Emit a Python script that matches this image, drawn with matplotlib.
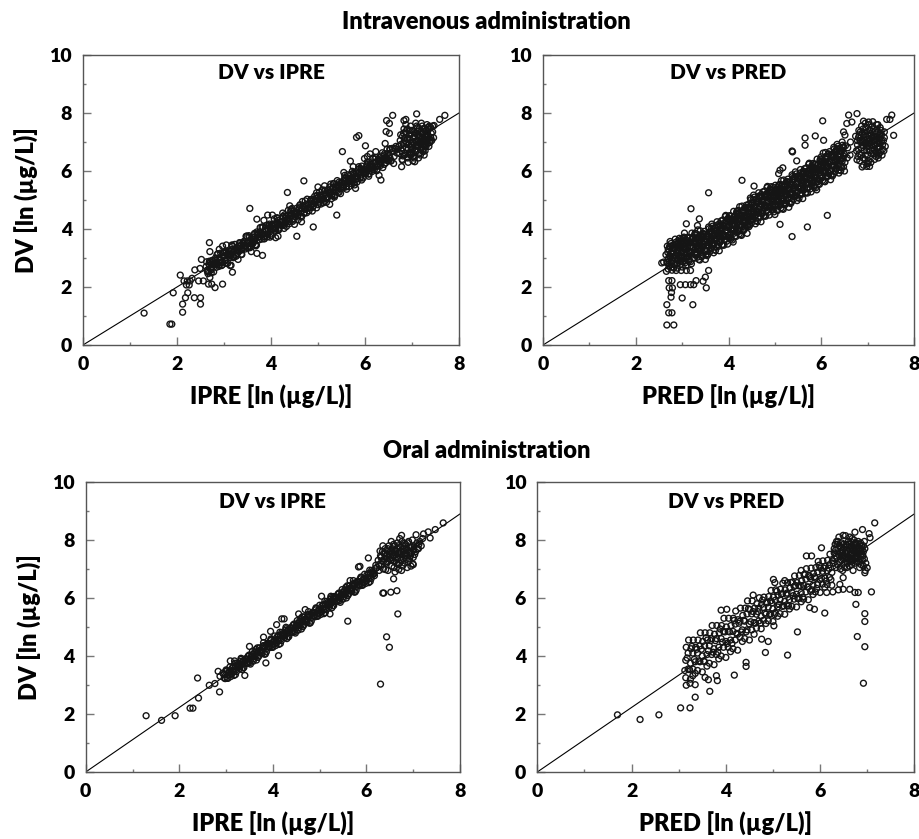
import numpy as np
import matplotlib
matplotlib.use("Agg")
import matplotlib.pyplot as plt

plt.rcParams['font.family'] = ['Lato', 'DejaVu Sans']
plt.rcParams['font.weight'] = 'heavy'

# ---- Intravenous: DV vs IPRE ----
iv_ipre_core = [
    (2.62,2.70),(2.64,2.58),(2.66,2.56),(2.68,2.80),(2.71,2.86),(2.73,2.59),(2.75,2.71),(2.77,2.80),(2.80,2.82),(2.82,3.00),
    (2.84,2.68),(2.86,2.77),(2.89,3.00),(2.91,2.92),(2.93,2.86),(2.95,2.74),(2.98,3.18),(3.00,3.07),(3.02,2.90),(3.04,3.18),
    (3.07,3.12),(3.09,3.06),(3.11,3.10),(3.13,3.02),(3.16,3.29),(3.18,3.40),(3.20,3.01),(3.22,3.26),(3.25,3.34),(3.27,3.10),
    (3.29,3.24),(3.31,3.41),(3.34,3.42),(3.36,3.30),(3.38,3.28),(3.40,3.52),(3.43,3.58),(3.45,3.31),(3.47,3.43),(3.49,3.52),
    (3.52,3.54),(3.54,3.72),(3.56,3.40),(3.58,3.49),(3.61,3.72),(3.63,3.64),(3.65,3.58),(3.67,3.46),(3.70,3.90),(3.72,3.79),
    (3.74,3.62),(3.76,3.90),(3.79,3.84),(3.81,3.78),(3.83,3.82),(3.85,3.74),(3.88,4.01),(3.90,4.12),(3.92,3.73),(3.94,3.98),
    (3.97,4.06),(3.99,3.82),(4.01,3.96),(4.03,4.13),(4.06,4.14),(4.08,4.02),(4.10,4.00),(4.12,4.24),(4.15,4.30),(4.17,4.03),
    (4.19,4.15),(4.21,4.24),(4.24,4.26),(4.26,4.44),(4.28,4.12),(4.30,4.21),(4.33,4.44),(4.35,4.36),(4.37,4.30),(4.39,4.18),
    (4.42,4.62),(4.44,4.51),(4.46,4.34),(4.48,4.62),(4.51,4.56),(4.53,4.50),(4.55,4.54),(4.57,4.46),(4.60,4.73),(4.62,4.84),
    (4.64,4.45),(4.66,4.70),(4.69,4.78),(4.71,4.54),(4.73,4.68),(4.75,4.85),(4.78,4.86),(4.80,4.74),(4.82,4.72),(4.84,4.96),
    (4.87,5.02),(4.89,4.75),(4.91,4.87),(4.93,4.96),(4.96,4.98),(4.98,5.16),(5.00,4.84),(5.02,4.93),(5.05,5.16),(5.07,5.08),
    (5.09,5.02),(5.11,4.90),(5.14,5.34),(5.16,5.23),(5.18,5.06),(5.20,5.34),(5.23,5.28),(5.25,5.22),(5.27,5.26),(5.29,5.18),
    (5.32,5.45),(5.34,5.56),(5.36,5.17),(5.38,5.42),(5.41,5.50),(5.43,5.26),(5.45,5.40),(5.47,5.57),(5.50,5.58),(5.52,5.46),
    (5.54,5.44),(5.56,5.68),(5.59,5.74),(5.61,5.47),(5.63,5.59),(5.65,5.68),(5.68,5.70),(5.70,5.88),(5.72,5.56),(5.74,5.65),
    (5.77,5.88),(5.79,5.80),(5.81,5.74),(5.83,5.62),(5.86,6.06),(5.88,5.95),(5.90,5.78),(5.92,6.06),(5.95,6.00),(5.97,5.94),
    (5.99,5.98),(6.01,5.90),(6.04,6.17),(6.06,6.28),(6.08,5.89),(6.10,6.14),(6.13,6.22),(6.15,5.98),(6.17,6.12),(6.19,6.29),
    (6.22,6.30),(6.24,6.18),(6.26,6.16),(6.28,6.40),(6.31,6.46),(6.33,6.19),(6.35,6.31),(6.37,6.40),(6.40,6.42),(6.42,6.60),
    (6.44,6.28),(6.46,6.37),(6.49,6.60),(6.51,6.52),(6.53,6.46),(6.55,6.34),(6.58,6.78),(6.60,6.67),(6.62,6.50),(6.64,6.78),
    (3.05,3.45),(3.30,2.95),(3.58,3.22),(3.70,3.16),(3.85,4.30),(4.15,3.75),(4.40,4.80),(4.65,4.25),(5.00,5.45),(5.25,4.85),
    (5.55,5.95),(5.80,5.40),(6.05,6.50),(6.30,5.85),(3.48,3.75),(4.10,3.70),(4.25,4.55),(5.35,5.10),(2.90,3.30),(3.15,2.75),
]
iv_ipre_fill = [
    (2.63,2.87),(2.66,2.46),(2.69,2.75),(2.72,2.63),(2.75,2.92),(2.78,2.52),(2.81,2.93),(2.84,2.82),(2.87,3.15),(2.90,2.75),
    (2.93,3.17),(2.96,2.76),(2.99,3.05),(3.02,2.93),(3.05,3.22),(3.08,2.82),(3.11,3.23),(3.14,3.12),(3.17,3.45),(3.20,3.05),
    (3.23,3.47),(3.26,3.06),(3.29,3.35),(3.32,3.23),(3.35,3.52),(3.38,3.12),(3.41,3.53),(3.44,3.42),(3.47,3.75),(3.50,3.35),
    (3.53,3.77),(3.56,3.36),(3.59,3.65),(3.62,3.53),(3.65,3.82),(3.68,3.42),(3.71,3.83),(3.74,3.72),(3.77,4.05),(3.80,3.65),
    (3.83,4.07),(3.86,3.66),(3.89,3.95),(3.92,3.83),(3.95,4.12),(3.98,3.72),(4.01,4.13),(4.04,4.02),(4.07,4.35),(4.10,3.95),
    (4.13,4.37),(4.16,3.96),(4.19,4.25),(4.22,4.13),(4.25,4.42),(4.28,4.02),(4.31,4.43),(4.34,4.32),(4.37,4.65),(4.40,4.25),
    (4.43,4.67),(4.46,4.26),(4.49,4.55),(4.52,4.43),(4.55,4.72),(4.58,4.32),(4.61,4.73),(4.64,4.62),(4.67,4.95),(4.70,4.55),
    (4.73,4.97),(4.76,4.56),(4.79,4.85),(4.82,4.73),(4.85,5.02),(4.88,4.62),(4.91,5.03),(4.94,4.92),(4.97,5.25),(5.00,4.85),
    (5.03,5.27),(5.06,4.86),(5.09,5.15),(5.12,5.03),(5.15,5.32),(5.18,4.92),(5.21,5.33),(5.24,5.22),(5.27,5.55),(5.30,5.15),
    (5.33,5.57),(5.36,5.16),(5.39,5.45),(5.42,5.33),(5.45,5.62),(5.48,5.22),(5.51,5.63),(5.54,5.52),(5.57,5.85),(5.60,5.45),
    (5.63,5.87),(5.66,5.46),(5.69,5.75),(5.72,5.63),(5.75,5.92),(5.78,5.52),(5.81,5.93),(5.84,5.82),(5.87,6.15),(5.90,5.75),
    (5.93,6.17),(5.96,5.76),(5.99,6.05),(6.02,5.93),(6.05,6.22),(6.08,5.82),(6.11,6.23),(6.14,6.12),(6.17,6.45),(6.20,6.05),
    (6.23,6.47),(6.26,6.06),(6.29,6.35),(6.32,6.23),(6.35,6.52),(6.38,6.12),(6.41,6.53),(6.44,6.42),(6.47,6.75),(6.50,6.35),
    (6.53,6.77),(6.56,6.36),
    (2.65,2.53),(2.69,2.89),(2.73,2.49),(2.77,2.87),(2.81,2.77),(2.85,3.11),(2.89,2.71),(2.93,2.95),(2.97,2.85),(3.01,3.21),
    (3.05,2.81),(3.09,3.19),(3.13,3.09),(3.17,3.43),(3.21,3.03),(3.25,3.27),(3.29,3.17),(3.33,3.53),(3.37,3.13),(3.41,3.51),
    (3.45,3.41),(3.49,3.75),(3.53,3.35),(3.57,3.59),(3.61,3.49),(3.65,3.85),(3.69,3.45),(3.73,3.83),(3.77,3.73),(3.81,4.07),
    (3.85,3.67),(3.89,3.91),(3.93,3.81),(3.97,4.17),(4.01,3.77),(4.05,4.15),(4.09,4.05),(4.13,4.39),(4.17,3.99),(4.21,4.23),
    (4.25,4.13),(4.29,4.49),(4.33,4.09),(4.37,4.47),(4.41,4.37),(4.45,4.71),(4.49,4.31),(4.53,4.55),(4.57,4.45),(4.61,4.81),
    (4.65,4.41),(4.69,4.79),(4.73,4.69),(4.77,5.03),(4.81,4.63),(4.85,4.87),(4.89,4.77),(4.93,5.13),(4.97,4.73),(5.01,5.11),
    (5.05,5.01),(5.09,5.35),(5.13,4.95),(5.17,5.19),(5.21,5.09),(5.25,5.45),(5.29,5.05),(5.33,5.43),(5.37,5.33),(5.41,5.67),
    (5.45,5.27),(5.49,5.51),(5.53,5.41),(5.57,5.77),(5.61,5.37),(5.65,5.75),(5.69,5.65),(5.73,5.99),(5.77,5.59),(5.81,5.83),
    (5.85,5.73),(5.89,6.09),(5.93,5.69),(5.97,6.07),(6.01,5.97),(6.05,6.31),(6.09,5.91),(6.13,6.15),(6.17,6.05),(6.21,6.41),
    (6.25,6.01),(6.29,6.39),(6.33,6.29),(6.37,6.63),(6.41,6.23),(6.45,6.47),(6.49,6.37),(6.53,6.73),
]
iv_ipre_blob = [
    (6.72,6.85),(6.75,7.05),(6.78,6.70),(6.80,7.20),(6.82,6.95),(6.84,6.55),(6.86,7.35),(6.88,6.80),(6.90,7.10),(6.91,6.45),
    (6.93,6.90),(6.95,7.25),(6.96,6.65),(6.98,7.00),(7.00,7.40),(7.01,6.75),(7.03,7.15),(7.04,6.50),(7.06,6.95),(7.07,7.30),
    (7.09,6.70),(7.10,7.05),(7.12,7.50),(7.13,6.85),(7.15,7.20),(7.16,6.60),(7.18,7.00),(7.19,7.35),(7.21,6.80),(7.22,7.10),
    (7.24,7.45),(7.25,6.90),(7.27,7.25),(7.28,6.70),(7.30,7.05),(7.31,7.40),(7.33,6.95),(7.35,7.20),(7.37,7.55),(7.39,7.05),
    (7.41,7.30),(6.74,6.60),(6.79,6.40),(6.83,7.45),(6.87,7.60),(6.92,6.30),(6.97,7.55),(7.02,6.35),(7.08,7.65),(7.14,6.45),
    (7.20,7.65),(7.26,6.55),(7.32,7.60),(7.36,6.85),(7.40,7.50),(7.44,7.35),(7.46,7.15),(6.89,6.98),(6.94,7.12),(6.99,6.82),
    (7.05,7.22),(7.11,6.92),(7.17,7.12),(7.23,7.02),(7.29,7.18),(6.85,7.15),(6.97,6.55),(7.03,6.62),(7.13,7.38),(7.19,6.72),
    (7.25,7.32),(6.81,6.52),(7.34,7.10),(7.38,6.98),(6.77,6.92),(6.70,6.75),(6.68,6.62),(6.66,6.85),
    (6.76,7.25),(6.80,6.80),(6.84,7.05),(6.88,7.30),(6.92,6.75),(6.96,7.40),(7.00,6.90),(7.04,7.35),(7.08,6.85),(7.12,7.25),
    (7.16,6.95),(7.20,7.30),(7.24,6.75),(7.28,7.45),(7.32,7.25),(7.36,7.45),(7.40,7.15),(6.86,6.62),(6.90,7.45),(6.94,6.58),
    (6.98,7.28),(7.02,7.00),(7.06,6.72),(7.10,7.55),(7.14,7.05),(7.18,6.55),(7.22,7.55),(7.26,7.05),(7.30,6.85),(7.34,7.50),
    (7.42,7.05),(7.44,7.55),(6.82,7.30),(7.00,6.60),(7.15,7.45),(7.21,6.95),(7.27,6.85),(7.33,7.35),(7.37,7.00),(7.05,6.45),
]
iv_ipre_out = [
    (1.30,1.10),(1.85,0.72),(1.89,0.72),(1.92,1.80),(2.12,1.13),(2.12,1.41),(2.07,2.41),(2.18,1.63),(2.23,1.80),(2.37,1.63),
    (2.50,1.63),(2.50,1.41),(2.38,2.59),(2.52,2.95),(2.46,2.21),(2.56,2.21),(2.15,2.21),(2.22,2.21),(2.28,2.21),(2.20,2.07),
    (2.26,2.07),(2.32,2.30),(2.69,3.53),(2.70,3.22),(2.67,2.10),(2.74,2.10),(2.81,1.98),(2.97,2.10),(2.70,2.33),(2.49,2.64),
    (2.97,3.41),(3.18,2.51),(3.13,2.74),(3.55,4.71),(3.70,4.34),(3.82,3.09),(3.93,4.48),(4.03,4.48),(4.35,5.26),(4.50,4.16),
    (4.55,3.75),(4.70,5.66),(4.90,4.07),(5.14,5.49),(5.40,4.48),(5.52,6.67),(5.69,6.34),(5.75,6.15),(5.82,7.16),(5.87,7.22),
    (6.01,6.87),(6.34,5.69),(5.99,6.43),(6.11,6.59),(6.23,6.67),(6.46,7.74),(6.52,7.64),(6.59,7.92),(6.45,7.36),(6.52,7.30),
    (6.43,6.95),(6.61,6.26),(6.78,6.15),(6.83,7.74),(6.87,7.78),(7.10,7.97),(6.80,6.37),(7.06,6.32),(7.24,6.67),(7.31,7.01),
    (7.47,7.57),(7.59,7.78),(7.70,7.92),(6.90,6.49),(6.95,6.61),
]

# ---- Intravenous: DV vs PRED ----
iv_pred_core = [
    (2.66,2.54),(2.67,2.84),(2.65,3.11),(2.68,3.41),(2.72,2.72),(2.73,3.04),(2.71,3.30),(2.74,3.57),
    (2.78,2.58),(2.79,2.88),(2.77,3.16),(2.80,3.44),(2.84,2.79),(2.85,3.09),(2.83,3.36),(2.86,3.54),
    (2.90,2.65),(2.91,2.95),(2.89,3.25),(2.92,3.52),(2.96,2.78),(2.97,3.08),(2.95,3.35),(2.98,3.65),
    (3.02,2.87),(3.03,3.19),(3.01,3.45),(3.04,3.72),(3.08,2.73),(3.09,3.03),(3.07,3.31),(3.10,3.59),
    (3.14,2.94),(3.15,3.24),(3.13,3.51),(3.16,3.69),(3.20,2.80),(3.21,3.10),(3.19,3.40),(3.22,3.67),
    (3.26,2.99),(3.27,3.29),(3.25,3.56),(3.28,3.86),(3.32,3.12),(3.33,3.44),(3.31,3.70),(3.34,3.97),
    (3.38,2.93),(3.39,3.23),(3.37,3.51),(3.40,3.79),(3.44,3.09),(3.45,3.39),(3.43,3.66),(3.46,3.84),
    (3.50,2.95),(3.51,3.25),(3.49,3.55),(3.52,3.82),(3.56,3.14),(3.57,3.44),(3.55,3.71),(3.58,4.01),
    (3.62,3.32),(3.63,3.64),(3.61,3.90),(3.64,4.17),(3.68,3.18),(3.69,3.48),(3.67,3.76),(3.70,4.04),
    (3.74,3.39),(3.75,3.69),(3.73,3.96),(3.76,4.14),(3.80,3.25),(3.81,3.55),(3.79,3.85),(3.82,4.12),
    (3.86,3.44),(3.87,3.74),(3.85,4.01),(3.88,4.31),(3.92,3.62),(3.93,3.94),(3.91,4.20),(3.94,4.47),
    (3.98,3.48),(3.99,3.78),(3.97,4.06),(4.00,4.34),(4.04,3.69),(4.05,3.99),(4.03,4.26),(4.06,4.44),
    (4.10,3.55),(4.11,3.85),(4.09,4.15),(4.12,4.42),(4.16,3.74),(4.17,4.04),(4.15,4.31),(4.18,4.61),
    (4.22,3.92),(4.23,4.24),(4.21,4.50),(4.24,4.77),(4.28,3.78),(4.29,4.08),(4.27,4.36),(4.30,4.64),
    (4.34,3.99),(4.35,4.29),(4.33,4.56),(4.36,4.74),(4.40,3.85),(4.41,4.15),(4.39,4.45),(4.42,4.72),
    (4.46,4.14),(4.47,4.44),(4.45,4.71),(4.48,5.01),(4.52,4.32),(4.53,4.64),(4.51,4.90),(4.54,5.17),
    (4.58,4.18),(4.59,4.48),(4.57,4.76),(4.60,5.04),(4.64,4.39),(4.65,4.69),(4.63,4.96),(4.66,5.14),
    (4.70,4.25),(4.71,4.55),(4.69,4.85),(4.72,5.12),(4.76,4.44),(4.77,4.74),(4.75,5.01),(4.78,5.31),
    (4.82,4.62),(4.83,4.94),(4.81,5.20),(4.84,5.47),(4.88,4.48),(4.89,4.78),(4.87,5.06),(4.90,5.34),
    (4.94,4.69),(4.95,4.99),(4.93,5.26),(4.96,5.44),(5.00,4.50),(5.01,4.80),(4.99,5.10),(5.02,5.37),
    (5.06,4.64),(5.07,4.94),(5.05,5.21),(5.08,5.51),(5.12,4.82),(5.13,5.14),(5.11,5.40),(5.14,5.67),
    (5.18,4.68),(5.19,4.98),(5.17,5.26),(5.20,5.54),(5.24,4.89),(5.25,5.19),(5.23,5.46),(5.26,5.64),
    (5.30,4.75),(5.31,5.05),(5.29,5.35),(5.32,5.62),(5.36,4.94),(5.37,5.24),(5.35,5.51),(5.38,5.81),
    (5.42,5.12),(5.43,5.44),(5.41,5.70),(5.44,5.97),(5.48,4.98),(5.49,5.28),(5.47,5.56),(5.50,5.84),
    (5.54,5.19),(5.55,5.49),(5.53,5.76),(5.56,5.94),(5.60,5.05),(5.61,5.35),(5.59,5.65),(5.62,5.92),
    (5.66,5.24),(5.67,5.54),(5.65,5.81),(5.68,6.11),(5.72,5.42),(5.73,5.74),(5.71,6.00),(5.74,6.27),
    (5.78,5.28),(5.79,5.58),(5.77,5.86),(5.80,6.14),(5.84,5.49),(5.85,5.79),(5.83,6.06),(5.86,6.24),
    (5.90,5.35),(5.91,5.65),(5.89,5.95),(5.92,6.22),(5.96,5.54),(5.97,5.84),(5.95,6.11),(5.98,6.41),
    (6.02,5.77),(6.03,6.09),(6.01,6.35),(6.04,6.62),(6.08,5.63),(6.09,5.93),(6.07,6.21),(6.10,6.49),
    (6.14,5.84),(6.15,6.14),(6.13,6.41),(6.16,6.59),(6.20,5.70),(6.21,6.00),(6.19,6.30),(6.22,6.57),
    (6.26,5.89),(6.27,6.19),(6.25,6.46),(6.28,6.76),(6.32,6.07),(6.33,6.39),(6.31,6.65),(6.34,6.92),
    (6.38,5.93),(6.39,6.23),(6.37,6.51),(6.40,6.79),(6.44,6.14),(6.45,6.44),(6.43,6.71),(6.46,6.89),
    (6.50,6.00),(6.51,6.30),(6.49,6.60),(6.52,6.87),(6.56,6.45),(6.57,6.80),(6.62,6.55),(6.63,7.00),
]
iv_pred_mid = [
    (2.69,2.84),(2.69,3.19),(2.75,3.05),(2.75,3.40),(2.81,2.81),(2.81,3.21),(2.87,3.09),(2.87,3.45),(2.93,3.08),(2.93,3.43),
    (2.99,3.24),(2.99,3.59),(3.05,2.90),(3.05,3.30),(3.11,3.18),(3.11,3.54),(3.17,3.17),(3.17,3.52),(3.23,3.38),(3.23,3.73),
    (3.29,3.11),(3.29,3.51),(3.35,3.34),(3.35,3.70),(3.41,3.28),(3.41,3.63),(3.47,3.47),(3.47,3.82),(3.53,3.23),(3.53,3.63),
    (3.59,3.51),(3.59,3.87),(3.65,3.50),(3.65,3.85),(3.71,3.71),(3.71,4.06),(3.77,3.47),(3.77,3.87),(3.83,3.75),(3.83,4.11),
    (3.89,3.74),(3.89,4.09),(3.95,3.95),(3.95,4.30),(4.01,3.71),(4.01,4.11),(4.07,3.99),(4.07,4.35),(4.13,3.98),(4.13,4.33),
    (4.19,4.19),(4.19,4.54),(4.25,3.95),(4.25,4.35),(4.31,4.23),(4.31,4.59),(4.37,4.22),(4.37,4.57),(4.43,4.50),(4.43,4.85),
    (4.49,4.29),(4.49,4.69),(4.55,4.57),(4.55,4.93),(4.61,4.56),(4.61,4.91),(4.67,4.77),(4.67,5.12),(4.73,4.53),(4.73,4.93),
    (4.79,4.81),(4.79,5.17),(4.85,4.80),(4.85,5.15),(4.91,5.01),(4.91,5.36),(4.97,4.75),(4.97,5.15),(5.03,4.95),(5.03,5.31),
    (5.09,4.94),(5.09,5.29),(5.15,5.15),(5.15,5.50),(5.21,4.91),(5.21,5.31),(5.27,5.19),(5.27,5.55),(5.33,5.18),(5.33,5.53),
    (5.39,5.39),(5.39,5.74),(5.45,5.15),(5.45,5.55),(5.51,5.43),(5.51,5.79),(5.57,5.42),(5.57,5.77),(5.63,5.63),(5.63,5.98),
    (5.69,5.39),(5.69,5.79),(5.75,5.67),(5.75,6.03),(5.81,5.66),(5.81,6.01),(5.87,5.87),(5.87,6.22),(5.93,5.63),(5.93,6.03),
    (5.99,5.95),(5.99,6.31),(6.05,5.95),(6.05,6.30),(6.11,6.16),(6.11,6.51),(6.17,5.92),(6.17,6.32),(6.23,6.20),(6.23,6.56),
    (6.29,6.19),(6.29,6.54),(6.35,6.40),(6.35,6.75),(6.41,6.16),(6.41,6.56),(6.47,6.44),(6.47,6.80),
]
iv_pred_fill = [
    (2.70,2.62),(2.70,2.98),(2.70,3.30),(2.76,2.84),(2.76,3.18),(2.76,3.50),(2.82,2.66),(2.82,3.02),(2.82,3.32),
    (2.88,2.80),(2.88,3.16),(2.88,3.48),(2.94,3.02),(2.94,3.36),(2.94,3.68),(3.00,2.69),(3.00,3.05),(3.00,3.35),
    (3.06,2.83),(3.06,3.19),(3.06,3.51),(3.12,3.05),(3.12,3.39),(3.12,3.71),(3.18,2.87),(3.18,3.23),(3.18,3.53),
    (3.24,3.01),(3.24,3.37),(3.24,3.69),(3.30,3.18),(3.30,3.52),(3.30,3.84),(3.36,2.95),(3.36,3.31),(3.36,3.61),
    (3.42,3.04),(3.42,3.40),(3.42,3.72),(3.48,3.26),(3.48,3.60),(3.48,3.92),(3.54,3.08),(3.54,3.44),(3.54,3.74),
    (3.60,3.22),(3.60,3.58),(3.60,3.90),(3.66,3.44),(3.66,3.78),(3.66,4.10),(3.72,3.26),(3.72,3.62),(3.72,3.92),
    (3.78,3.40),(3.78,3.76),(3.78,4.08),(3.84,3.62),(3.84,3.96),(3.84,4.28),(3.90,3.44),(3.90,3.80),(3.90,4.10),
    (3.96,3.58),(3.96,3.94),(3.96,4.26),(4.02,3.80),(4.02,4.14),(4.02,4.46),(4.08,3.62),(4.08,3.98),(4.08,4.28),
    (4.14,3.76),(4.14,4.12),(4.14,4.44),(4.20,3.98),(4.20,4.32),(4.20,4.64),(4.26,3.80),(4.26,4.16),(4.26,4.46),
    (4.32,3.94),(4.32,4.30),(4.32,4.62),(4.38,4.16),(4.38,4.50),(4.38,4.82),(4.44,4.08),(4.44,4.44),(4.44,4.74),
    (4.50,4.22),(4.50,4.58),(4.50,4.90),(4.56,4.44),(4.56,4.78),(4.56,5.10),(4.62,4.26),(4.62,4.62),(4.62,4.92),
    (4.68,4.40),(4.68,4.76),(4.68,5.08),(4.74,4.62),(4.74,4.96),(4.74,5.28),(4.80,4.44),(4.80,4.80),(4.80,5.10),
    (4.86,4.58),(4.86,4.94),(4.86,5.26),(4.92,4.80),(4.92,5.14),(4.92,5.46),(4.98,4.59),(4.98,4.95),(4.98,5.25),
    (5.04,4.66),(5.04,5.02),(5.04,5.34),(5.10,4.88),(5.10,5.22),(5.10,5.54),(5.16,4.70),(5.16,5.06),(5.16,5.36),
    (5.22,4.84),(5.22,5.20),(5.22,5.52),(5.28,5.06),(5.28,5.40),(5.28,5.72),(5.34,4.88),(5.34,5.24),(5.34,5.54),
    (5.40,5.02),(5.40,5.38),(5.40,5.70),(5.46,5.24),(5.46,5.58),(5.46,5.90),(5.52,5.06),(5.52,5.42),(5.52,5.72),
    (5.58,5.20),(5.58,5.56),(5.58,5.88),(5.64,5.42),(5.64,5.76),(5.64,6.08),(5.70,5.24),(5.70,5.60),(5.70,5.90),
    (5.76,5.38),(5.76,5.74),(5.76,6.06),(5.82,5.60),(5.82,5.94),(5.82,6.26),(5.88,5.42),(5.88,5.78),(5.88,6.08),
    (5.94,5.56),(5.94,5.92),(5.94,6.24),(6.00,5.83),(6.00,6.17),(6.00,6.49),(6.06,5.65),(6.06,6.01),(6.06,6.31),
    (6.12,5.79),(6.12,6.15),(6.12,6.47),(6.18,6.01),(6.18,6.35),(6.18,6.67),(6.24,5.83),(6.24,6.19),(6.24,6.49),
    (6.30,5.97),(6.30,6.33),(6.30,6.65),(6.36,6.19),(6.36,6.53),(6.36,6.85),(6.42,6.01),(6.42,6.37),(6.42,6.67),
    (6.48,6.15),(6.48,6.51),(6.48,6.83),
    (2.73,2.75),(2.73,3.09),(2.73,3.41),(2.79,2.69),(2.79,3.01),(2.79,3.33),(2.85,2.99),(2.85,3.33),(2.85,3.65),
    (2.91,2.93),(2.91,3.27),(2.91,3.59),(2.97,2.87),(2.97,3.19),(2.97,3.51),(3.03,3.02),(3.03,3.36),(3.03,3.68),
    (3.09,2.96),(3.09,3.30),(3.09,3.62),(3.15,2.90),(3.15,3.22),(3.15,3.54),(3.21,3.20),(3.21,3.54),(3.21,3.86),
    (3.27,3.14),(3.27,3.48),(3.27,3.80),(3.33,3.03),(3.33,3.35),(3.33,3.67),(3.39,3.28),(3.39,3.62),(3.39,3.94),
    (3.45,3.17),(3.45,3.51),(3.45,3.83),(3.51,3.11),(3.51,3.43),(3.51,3.75),(3.57,3.41),(3.57,3.75),(3.57,4.07),
    (3.63,3.35),(3.63,3.69),(3.63,4.01),(3.69,3.29),(3.69,3.61),(3.69,3.93),(3.75,3.59),(3.75,3.93),(3.75,4.25),
    (3.81,3.53),(3.81,3.87),(3.81,4.19),(3.87,3.47),(3.87,3.79),(3.87,4.11),(3.93,3.77),(3.93,4.11),(3.93,4.43),
    (3.99,3.71),(3.99,4.05),(3.99,4.37),(4.05,3.65),(4.05,3.97),(4.05,4.29),(4.11,3.95),(4.11,4.29),(4.11,4.61),
    (4.17,3.89),(4.17,4.23),(4.17,4.55),(4.23,3.83),(4.23,4.15),(4.23,4.47),(4.29,4.13),(4.29,4.47),(4.29,4.79),
    (4.35,4.07),(4.35,4.41),(4.35,4.73),(4.41,4.11),(4.41,4.43),(4.41,4.75),(4.47,4.41),(4.47,4.75),(4.47,5.07),
    (4.53,4.35),(4.53,4.69),(4.53,5.01),(4.59,4.29),(4.59,4.61),(4.59,4.93),(4.65,4.59),(4.65,4.93),(4.65,5.25),
    (4.71,4.53),(4.71,4.87),(4.71,5.19),(4.77,4.47),(4.77,4.79),(4.77,5.11),(4.83,4.77),(4.83,5.11),(4.83,5.43),
    (4.89,4.71),(4.89,5.05),(4.89,5.37),(4.95,4.65),(4.95,4.97),(4.95,5.29),(5.01,4.85),(5.01,5.19),(5.01,5.51),
    (5.07,4.79),(5.07,5.13),(5.07,5.45),(5.13,4.73),(5.13,5.05),(5.13,5.37),(5.19,5.03),(5.19,5.37),(5.19,5.69),
    (5.25,4.97),(5.25,5.31),(5.25,5.63),(5.31,4.91),(5.31,5.23),(5.31,5.55),(5.37,5.21),(5.37,5.55),(5.37,5.87),
    (5.43,5.15),(5.43,5.49),(5.43,5.81),(5.49,5.09),(5.49,5.41),(5.49,5.73),(5.55,5.39),(5.55,5.73),(5.55,6.05),
    (5.61,5.33),(5.61,5.67),(5.61,5.99),(5.67,5.27),(5.67,5.59),(5.67,5.91),(5.73,5.57),(5.73,5.91),(5.73,6.23),
    (5.79,5.51),(5.79,5.85),(5.79,6.17),(5.85,5.45),(5.85,5.77),(5.85,6.09),(5.91,5.75),(5.91,6.09),(5.91,6.41),
    (5.97,5.69),(5.97,6.03),(5.97,6.35),(6.03,5.68),(6.03,6.00),(6.03,6.32),(6.09,5.98),(6.09,6.32),(6.09,6.64),
    (6.15,5.92),(6.15,6.26),(6.15,6.58),(6.21,5.86),(6.21,6.18),(6.21,6.50),(6.27,6.16),(6.27,6.50),(6.27,6.82),
    (6.33,6.10),(6.33,6.44),(6.33,6.76),(6.39,6.04),(6.39,6.36),(6.39,6.68),(6.45,6.34),(6.45,6.68),(6.45,7.00),
]
iv_pred_blob = [
    (6.78,6.90),(6.80,7.15),(6.82,6.60),(6.84,7.35),(6.86,6.80),(6.88,7.05),(6.90,6.45),(6.92,7.25),(6.94,6.95),(6.96,7.50),
    (6.98,6.70),(7.00,7.10),(7.02,6.35),(7.04,6.85),(7.06,7.30),(7.08,6.60),(7.10,7.00),(7.12,7.45),(7.14,6.75),(7.16,7.20),
    (7.18,6.50),(7.20,6.95),(7.22,7.35),(7.24,6.80),(7.26,7.10),(7.28,6.65),(7.30,7.25),(7.32,6.90),(7.34,7.05),(6.83,6.35),
    (6.87,7.55),(6.91,6.20),(6.95,7.65),(6.99,6.25),(7.03,7.60),(7.07,6.30),(7.11,7.70),(7.15,6.40),(7.19,7.60),(7.23,6.45),
    (7.27,7.50),(7.31,6.55),(7.36,7.35),(7.38,6.85),(6.76,6.70),(6.74,7.20),(6.89,6.88),(6.93,7.08),(6.97,6.82),(7.01,7.22),
    (7.05,6.98),(7.09,7.15),(7.13,6.88),(7.17,7.05),(7.21,7.18),(7.25,6.95),(6.85,7.00),(6.95,6.55),(7.05,7.42),(7.15,6.60),
    (7.25,7.25),(6.81,7.40),(7.35,6.70),(7.29,7.40),(6.79,6.50),
    (6.80,6.75),(6.84,7.05),(6.88,7.30),(6.92,6.70),(6.96,7.20),(7.00,6.85),(7.04,7.40),(7.08,6.90),(7.12,7.20),(7.16,6.90),
    (7.20,7.45),(7.24,7.00),(7.28,7.30),(7.32,6.75),(7.36,7.15),(6.86,6.55),(6.90,7.45),(6.94,6.40),(6.98,7.35),(7.02,6.95),
    (7.06,6.70),(7.10,7.55),(7.14,7.05),(7.18,6.65),(7.22,7.60),(7.26,6.85),(7.30,7.05),(6.82,7.25),(7.00,6.55),(7.15,7.35),
    (7.21,6.80),(7.27,7.15),(6.78,7.05),(7.04,7.10),(7.12,6.60),(6.96,6.95),(7.08,7.25),(7.18,7.10),(6.92,7.00),(7.24,6.60),
]
iv_pred_out = [
    (2.67,0.69),(2.82,0.69),(2.71,1.11),(2.78,1.11),(2.67,1.39),(3.23,1.39),(2.76,1.65),(3.00,1.62),(2.77,1.81),(2.72,1.97),
    (2.79,1.97),(2.71,2.22),(2.78,2.22),(2.96,2.08),(3.07,2.08),(3.18,2.08),(3.25,2.08),(3.30,2.22),(3.52,1.97),(3.45,2.20),
    (2.60,2.86),(2.56,2.83),(2.87,2.57),(2.98,2.57),(3.09,2.57),(3.18,2.57),(3.57,2.57),(3.50,2.34),(3.57,5.25),(3.19,4.70),
    (3.09,4.18),(3.05,3.86),(3.37,4.35),(3.33,4.12),(4.29,5.68),(4.55,5.48),(5.17,6.11),(5.38,6.66),(5.65,7.14),(5.65,6.89),
    (5.87,7.21),(6.03,7.73),(6.05,7.06),(5.37,6.69),(5.47,6.35),(5.11,6.03),(5.08,5.91),(6.13,4.47),(5.70,4.07),(5.37,3.74),
    (5.11,4.16),(6.59,7.93),(6.77,7.98),(6.66,7.69),(6.55,7.64),(6.48,7.35),(6.51,7.24),(7.52,7.93),(7.48,7.78),(7.56,7.23),
    (6.91,7.72),(7.02,7.69),(6.88,6.14),(6.98,6.16),(7.23,6.54),(6.77,6.39),(7.41,7.78),(7.04,6.16),(7.00,6.28),
]

# ---- Oral: DV vs IPRE ----
or_ipre_core = [
    (2.95,3.36),(2.96,3.24),(2.98,3.22),(2.99,3.46),(3.01,3.50),(3.02,3.23),(3.04,3.34),(3.05,3.43),(3.07,3.44),(3.08,3.62),
    (3.10,3.29),(3.11,3.38),(3.13,3.59),(3.14,3.51),(3.16,3.45),(3.17,3.33),(3.19,3.75),(3.20,3.64),(3.22,3.46),(3.23,3.74),
    (3.25,3.67),(3.26,3.61),(3.28,3.64),(3.29,3.56),(3.31,3.81),(3.32,3.92),(3.34,3.53),(3.35,3.78),(3.37,3.84),(3.38,3.60),
    (3.40,3.73),(3.41,3.90),(3.43,3.90),(3.44,3.78),(3.46,3.75),(3.47,3.99),(3.49,4.03),(3.50,3.76),(3.52,3.88),(3.53,3.97),
    (3.55,3.97),(3.56,4.15),(3.58,3.82),(3.59,3.91),(3.61,4.13),(3.62,4.05),(3.64,3.98),(3.65,3.86),(3.67,4.28),(3.68,4.17),
    (3.70,4.00),(3.71,4.28),(3.73,4.20),(3.74,4.14),(3.76,4.17),(3.77,4.09),(3.79,4.35),(3.80,4.46),(3.82,4.06),(3.83,4.31),
    (3.85,4.38),(3.86,4.14),(3.88,4.27),(3.89,4.44),(3.91,4.43),(3.92,4.31),(3.94,4.29),(3.95,4.53),(3.97,4.57),(3.98,4.30),
    (4.00,4.41),(4.01,4.50),(4.03,4.51),(4.04,4.69),(4.06,4.36),(4.07,4.45),(4.09,4.66),(4.10,4.58),(4.12,4.52),(4.13,4.40),
    (4.15,4.82),(4.16,4.71),(4.18,4.53),(4.19,4.81),(4.21,4.74),(4.22,4.68),(4.24,4.71),(4.25,4.63),(4.27,4.88),(4.28,4.99),
    (4.30,4.60),(4.31,4.85),(4.33,4.91),(4.34,4.67),(4.36,4.80),(4.37,4.97),(4.39,4.97),(4.40,4.85),(4.42,4.82),(4.43,5.06),
    (4.45,5.10),(4.46,4.83),(4.48,4.95),(4.49,5.04),(4.51,5.04),(4.52,5.22),(4.54,4.89),(4.55,4.98),(4.57,5.20),(4.58,5.12),
    (4.60,5.05),(4.61,4.93),(4.63,5.35),(4.64,5.24),(4.66,5.07),(4.67,5.35),(4.69,5.27),(4.70,5.21),(4.72,5.24),(4.73,5.16),
    (4.75,5.42),(4.76,5.53),(4.78,5.13),(4.79,5.38),(4.81,5.44),(4.82,5.20),(4.84,5.34),(4.85,5.51),(4.87,5.50),(4.88,5.38),
    (4.90,5.35),(4.91,5.59),(4.93,5.64),(4.94,5.37),(4.96,5.48),(4.97,5.57),(4.99,5.57),(5.00,5.75),(5.02,5.43),(5.03,5.52),
    (5.05,5.73),(5.06,5.65),(5.08,5.58),(5.09,5.46),(5.11,5.89),(5.12,5.78),(5.14,5.60),(5.15,5.88),(5.17,5.80),(5.18,5.74),
    (5.20,5.78),(5.21,5.70),(5.23,5.95),(5.24,6.06),(5.26,5.66),(5.27,5.91),(5.29,5.98),(5.30,5.74),(5.32,5.87),(5.33,6.04),
    (5.35,6.03),(5.36,5.91),(5.38,5.89),(5.39,6.13),(5.41,6.17),(5.42,5.90),(5.44,6.01),(5.45,6.10),(5.47,6.11),(5.48,6.29),
    (5.50,5.96),(5.51,6.05),(5.53,6.26),(5.54,6.18),(5.56,6.12),(5.57,6.00),(5.59,6.42),(5.60,6.31),(5.62,6.14),(5.63,6.42),
    (5.65,6.34),(5.66,6.28),(5.68,6.31),(5.69,6.23),(5.71,6.49),(5.72,6.60),(5.74,6.20),(5.75,6.45),(5.77,6.51),(5.78,6.27),
    (5.80,6.41),(5.81,6.58),(5.83,6.57),(5.84,6.45),(5.86,6.42),(5.87,6.66),(5.89,6.71),(5.90,6.44),(5.92,6.55),(5.93,6.64),
    (5.95,6.64),(5.96,6.82),(5.98,6.50),(5.99,6.59),(6.01,6.80),(6.02,6.72),(6.04,6.65),(6.05,6.53),(6.07,6.96),(6.08,6.85),
    (6.10,6.67),(6.11,6.95),(6.13,6.87),(6.14,6.81),(6.16,6.85),(6.17,6.77),(6.19,7.02),(6.20,7.13),
]
or_ipre_fill = [
    (3.00,3.52),(3.04,3.23),(3.08,3.47),(3.12,3.40),(3.16,3.64),(3.20,3.36),(3.24,3.70),(3.28,3.63),(3.32,3.88),(3.36,3.59),
    (3.40,3.82),(3.44,3.76),(3.48,3.99),(3.52,3.72),(3.56,4.05),(3.60,3.99),(3.64,4.23),(3.68,3.95),(3.72,4.18),(3.76,4.11),
    (3.80,4.35),(3.84,4.07),(3.88,4.41),(3.92,4.34),(3.96,4.59),(4.00,4.30),(4.04,4.54),(4.08,4.47),(4.12,4.71),(4.16,4.43),
    (4.20,4.76),(4.24,4.70),(4.28,4.94),(4.32,4.66),(4.36,4.89),(4.40,4.83),(4.44,5.06),(4.48,4.79),(4.52,5.12),(4.56,5.06),
    (4.60,5.30),(4.64,5.01),(4.68,5.25),(4.72,5.18),(4.76,5.42),(4.80,5.14),(4.84,5.48),(4.88,5.41),(4.92,5.66),(4.96,5.37),
    (5.00,5.61),(5.04,5.54),(5.08,5.77),(5.12,5.50),(5.16,5.83),(5.20,5.77),(5.24,6.01),(5.28,5.73),(5.32,5.96),(5.36,5.90),
    (5.40,6.13),(5.44,5.85),(5.48,6.19),(5.52,6.12),(5.56,6.37),(5.60,6.08),(5.64,6.32),(5.68,6.25),(5.72,6.49),(5.76,6.21),
    (5.80,6.55),(5.84,6.48),(5.88,6.72),(5.92,6.44),(5.96,6.67),(6.00,6.61),(6.04,6.84),(6.08,6.57),(6.12,6.90),(6.16,6.84),
]
or_ipre_blob = [
    (6.22,7.05),(6.25,7.30),(6.27,6.95),(6.30,7.45),(6.32,7.15),(6.34,7.60),(6.36,7.00),(6.38,7.35),(6.40,7.70),(6.42,7.20),
    (6.44,7.50),(6.46,6.95),(6.48,7.80),(6.50,7.35),(6.52,7.60),(6.54,7.10),(6.56,7.45),(6.58,7.85),(6.60,7.25),(6.62,7.65),
    (6.64,7.40),(6.66,7.90),(6.68,7.15),(6.70,7.55),(6.72,7.75),(6.74,7.30),(6.76,7.95),(6.78,7.50),(6.80,7.70),(6.82,7.20),
    (6.84,7.85),(6.86,7.45),(6.88,7.65),(6.90,7.95),(6.92,7.35),(6.94,7.75),(6.96,7.55),(6.98,8.00),(7.00,7.40),(7.02,7.80),
    (7.05,7.60),(7.08,7.90),(7.11,7.70),(7.14,7.95),(7.17,7.80),(7.20,8.05),(6.29,7.62),(6.35,7.80),(6.41,6.98),(6.47,7.62),
    (6.53,7.95),(6.59,7.05),(6.65,7.70),(6.71,8.05),(6.77,7.10),(6.83,7.55),(6.89,7.25),(6.95,7.10),(7.01,7.65),(6.45,7.25),
    (6.55,7.70),(6.63,7.50),(6.73,7.40),(6.81,7.88),(6.87,7.05),(6.75,6.95),(6.69,6.98),(6.61,6.90),(6.57,7.28),(6.67,7.35),
    (6.79,7.62),(6.85,7.33),(6.93,7.55),(6.99,7.18),(6.39,7.52),(6.33,7.28),
    (6.26,7.15),(6.31,7.40),(6.37,7.55),(6.43,7.35),(6.49,7.50),(6.55,7.55),(6.61,7.60),(6.67,7.55),(6.73,7.60),(6.79,7.35),
    (6.85,7.70),(6.91,7.60),(6.97,7.75),(7.03,7.50),(7.09,7.70),(6.36,7.25),(6.46,7.70),(6.52,7.30),(6.60,7.80),(6.68,7.80),
    (6.74,7.50),(6.82,7.45),(6.88,7.90),(6.94,7.45),(7.12,7.85),(6.42,7.45),(6.58,7.45),(6.70,7.20),(6.78,7.80),(6.64,7.20),
]
or_ipre_out = [
    (1.29,1.94),(1.62,1.78),(1.91,1.94),(2.23,2.20),(2.29,2.20),(2.39,3.24),(2.41,2.55),(2.64,2.99),(2.76,3.05),(2.86,2.76),
    (2.83,3.47),(2.87,3.30),(2.93,3.41),(5.60,5.20),(6.67,5.45),(6.43,4.66),(6.49,4.30),(6.30,3.03),(6.35,6.17),(6.37,6.17),
    (6.52,6.20),(6.65,6.25),(6.58,6.66),(7.00,7.15),(5.83,7.07),(5.22,5.45),(5.04,6.06),(4.12,4.01),(3.85,3.76),(3.40,3.33),
    (3.18,3.83),(3.09,3.83),(3.50,4.33),(4.24,5.28),(4.19,5.28),(4.08,5.08),(4.69,5.60),(7.64,8.59),(7.47,8.36),(7.36,8.07),
    (7.32,8.28),(7.22,8.21),(7.06,8.18),(6.75,8.16),(6.04,7.38),(5.86,7.09),(3.80,4.65),(3.95,4.85),(4.55,5.45),(5.30,6.05),
    (5.65,6.60),
]

# ---- Oral: DV vs PRED ----
or_pred_core = [
    (3.15,3.25),(3.15,3.85),(3.16,4.30),(3.20,3.55),(3.20,4.10),(3.21,4.55),(3.25,3.20),(3.25,3.75),(3.26,4.25),(3.30,3.55),
    (3.30,4.10),(3.31,4.55),(3.35,3.80),(3.35,3.40),(3.36,4.30),(3.40,3.50),(3.40,4.10),(3.41,4.55),(3.45,3.80),(3.45,4.35),
    (3.46,4.80),(3.50,3.45),(3.50,4.00),(3.51,4.50),(3.55,3.80),(3.55,4.35),(3.56,4.80),(3.60,4.05),(3.60,3.65),(3.61,4.55),
    (3.65,3.75),(3.65,4.35),(3.66,4.80),(3.70,4.05),(3.70,4.60),(3.71,5.05),(3.75,3.70),(3.75,4.25),(3.76,4.75),(3.80,4.05),
    (3.80,4.60),(3.81,5.05),(3.85,4.30),(3.85,3.90),(3.86,4.80),(3.90,4.00),(3.90,4.60),(3.91,5.05),(3.95,4.30),(3.95,4.85),
    (3.96,5.30),(4.00,3.95),(4.00,4.50),(4.01,5.00),(4.05,4.30),(4.05,4.85),(4.06,5.30),(4.10,4.55),(4.10,4.15),(4.11,5.05),
    (4.15,4.25),(4.15,4.85),(4.16,5.30),(4.20,4.55),(4.20,5.10),(4.21,5.55),(4.25,4.20),(4.25,4.75),(4.26,5.25),(4.30,4.65),
    (4.30,5.20),(4.31,5.65),(4.35,4.90),(4.35,4.50),(4.36,5.40),(4.40,4.60),(4.40,5.20),(4.41,5.65),(4.45,4.90),(4.45,5.45),
    (4.46,5.90),(4.50,4.55),(4.50,5.10),(4.51,5.60),(4.55,4.90),(4.55,5.45),(4.56,5.90),(4.60,5.15),(4.60,4.75),(4.61,5.65),
    (4.65,4.96),(4.65,5.44),(4.66,5.80),(4.70,5.21),(4.70,5.65),(4.71,6.01),(4.75,4.94),(4.75,5.38),(4.76,5.78),(4.80,5.23),
    (4.80,5.67),(4.81,6.03),(4.85,5.44),(4.85,5.12),(4.86,5.84),(4.90,5.21),(4.90,5.69),(4.91,6.05),(4.95,5.46),(4.95,5.90),
    (4.96,6.26),(5.00,5.19),(5.00,5.63),(5.01,6.03),(5.05,5.48),(5.05,5.92),(5.06,6.28),(5.10,5.69),(5.10,5.37),(5.11,6.09),
    (5.15,5.46),(5.15,5.94),(5.16,6.30),(5.20,5.71),(5.20,6.15),(5.21,6.51),(5.25,5.44),(5.25,5.88),(5.26,6.28),(5.30,5.73),
    (5.30,6.17),(5.31,6.53),(5.35,5.94),(5.35,5.62),(5.36,6.34),(5.40,5.71),(5.40,6.19),(5.41,6.55),(5.45,5.96),(5.45,6.40),
    (5.46,6.76),(5.50,5.69),(5.50,6.13),(5.51,6.53),(5.55,5.98),(5.55,6.42),(5.56,6.78),(5.60,6.19),(5.60,5.87),(5.61,6.59),
    (5.65,5.96),(5.65,6.44),(5.66,6.80),(5.70,6.21),(5.70,6.65),(5.71,7.01),(5.75,5.94),(5.75,6.38),(5.76,6.78),(5.80,6.23),
    (5.80,6.67),(5.81,7.03),(5.85,6.44),(5.85,6.12),(5.86,6.84),(5.90,6.21),(5.90,6.69),(5.91,7.05),(5.95,6.46),(5.95,6.90),
    (5.96,7.26),(6.00,6.19),(6.00,6.63),(6.01,7.03),(6.05,6.48),(6.05,6.92),(6.06,7.28),(6.10,6.69),(6.10,6.37),(6.11,7.09),
    (6.15,6.46),(6.15,6.94),(6.16,7.30),(6.20,6.71),(6.20,7.15),(6.21,7.51),(6.25,6.44),(6.25,6.88),(6.26,7.28),
    (3.18,3.93),(3.23,3.53),(3.28,4.33),(3.33,3.88),(3.38,4.23),(3.43,3.83),(3.48,4.23),(3.53,3.83),(3.58,4.63),(3.63,4.18),
    (3.68,4.53),(3.73,4.13),(3.78,4.53),(3.83,4.13),(3.88,4.93),(3.93,4.48),(3.98,4.83),(4.03,4.43),(4.08,4.83),(4.13,4.43),
    (4.18,5.23),(4.23,4.78),(4.28,5.13),(4.33,4.83),(4.38,5.23),(4.43,4.83),(4.48,5.63),(4.53,5.18),(4.58,5.53),(4.63,5.13),
    (4.68,5.53),(4.73,5.13),(4.78,5.93),(4.83,5.48),(4.88,5.83),(4.93,5.43),(4.98,5.83),(5.03,5.43),(5.08,6.23),(5.13,5.78),
    (5.18,6.13),(5.23,5.73),(5.28,6.13),(5.33,5.73),(5.38,6.53),(5.43,6.08),(5.48,6.43),(5.53,5.98),(5.58,6.43),(5.63,6.03),
    (5.68,6.83),(5.73,6.38),(5.78,6.73),(5.83,6.28),(5.88,6.73),(5.93,6.33),(5.98,7.13),(6.03,6.68),(6.08,7.03),(6.13,6.58),
    (6.18,7.03),(6.23,6.63),
]
or_pred_blob = [
    (6.28,7.20),(6.30,7.55),(6.32,7.85),(6.34,7.05),(6.36,7.40),(6.38,7.70),(6.40,8.10),(6.42,7.25),(6.44,7.60),(6.46,7.90),
    (6.48,6.95),(6.50,7.45),(6.52,7.75),(6.54,8.15),(6.56,7.30),(6.58,7.60),(6.60,7.95),(6.62,7.10),(6.64,7.50),(6.66,7.80),
    (6.68,7.35),(6.70,7.65),(6.72,8.00),(6.74,7.20),(6.76,7.55),(6.78,7.85),(6.80,7.40),(6.82,7.70),(6.84,7.05),(6.86,7.50),
    (6.88,7.80),(6.90,7.30),(6.92,7.60),(6.94,7.95),(6.31,7.35),(6.35,7.95),(6.39,7.50),(6.43,7.00),(6.47,7.65),(6.51,7.20),
    (6.55,7.85),(6.59,7.40),(6.63,7.70),(6.67,7.15),(6.71,7.45),(6.75,7.90),(6.79,7.25),(6.83,7.55),(6.87,7.15),(6.91,7.45),
    (6.95,7.70),(6.97,7.20),(6.33,7.65),(6.41,7.80),(6.49,7.35),(6.57,7.05),(6.65,7.95),(6.73,7.40),(6.81,7.95),(6.89,7.65),
    (6.45,7.45),(6.53,7.55),(6.61,7.35),(6.69,7.55),(6.77,7.70),(6.85,7.35),(6.37,7.15),(6.63,8.10),(6.58,7.80),(6.68,7.70),
    (6.74,7.60),(6.86,7.90),(6.92,7.10),(6.96,6.95),(6.70,6.95),(6.66,7.25),
    (6.30,7.70),(6.34,7.45),(6.38,7.95),(6.42,7.55),(6.46,7.30),(6.50,7.85),(6.54,7.40),(6.58,7.20),(6.62,7.85),(6.66,7.55),
    (6.70,7.30),(6.74,7.85),(6.78,7.45),(6.82,7.25),(6.86,7.65),(6.90,7.50),(6.94,7.35),(6.36,7.85),(6.44,7.75),(6.52,7.05),
    (6.60,7.55),(6.68,8.05),(6.76,7.35),(6.84,7.85),(6.92,7.80),(6.48,7.55),(6.56,7.65),(6.64,7.35),(6.72,7.75),(6.80,7.60),
]
or_pred_out = [
    (1.70,1.97),(2.18,1.81),(2.58,1.97),(3.04,2.21),(3.24,2.21),(3.35,2.58),(3.24,3.06),(3.35,3.01),(3.66,2.78),(3.30,3.32),
    (3.56,3.26),(3.63,3.18),(3.80,3.32),(3.82,3.15),(4.02,5.61),(4.43,3.64),(4.43,3.78),(4.18,3.34),(4.84,4.12),(5.31,4.03),
    (5.52,4.83),(4.76,4.58),(4.90,4.50),(5.02,5.04),(5.01,6.64),(5.04,6.53),(5.71,7.45),(5.82,7.45),(6.03,7.73),(5.78,5.67),
    (5.88,5.61),(6.10,5.48),(6.14,6.19),(6.27,6.21),(6.39,6.28),(6.49,6.30),(6.63,6.30),(6.74,6.19),(6.81,6.19),(6.42,6.47),
    (6.49,6.70),(6.76,5.78),(6.79,4.67),(6.95,4.32),(6.95,5.19),(6.95,5.46),(6.92,3.06),(7.09,6.21),(7.16,8.59),(7.00,7.04),
    (6.95,6.87),(7.06,8.08),(7.04,8.22),(6.90,8.36),(6.74,8.27),(6.49,8.16),(3.13,3.50),(3.16,2.99),(3.90,5.58),(4.58,6.10),
    (5.25,6.60),(5.60,6.95),
]

# reference lines (end points as drawn in each row)
line_x = [0, 8]
line_y_iv = [0, 8]
line_y_oral = [0, 8.9]

panels = [
    (iv_ipre_core + iv_ipre_fill + iv_ipre_blob + iv_ipre_out, 'DV vs IPRE', 'IPRE [ln (µg/L)]', line_y_iv),
    (iv_pred_core + iv_pred_mid + iv_pred_fill + iv_pred_blob + iv_pred_out, 'DV vs PRED', 'PRED [ln (µg/L)]', line_y_iv),
    (or_ipre_core + or_ipre_fill + or_ipre_blob + or_ipre_out, 'DV vs IPRE', 'IPRE [ln (µg/L)]', line_y_oral),
    (or_pred_core + or_pred_blob + or_pred_out, 'DV vs PRED', 'PRED [ln (µg/L)]', line_y_oral),
]
rects = [
    [0.0903, 0.5888, 0.4091, 0.3456],
    [0.5909, 0.5888, 0.4037, 0.3456],
    [0.0933, 0.0799, 0.4073, 0.3456],
    [0.5847, 0.0799, 0.4102, 0.3456],
]

fig = plt.figure(figsize=(9.19, 8.39), dpi=100)

for i, (pts, sub, xlab, ly) in enumerate(panels):
    ax = fig.add_axes(rects[i])
    pts = np.array(pts)
    ax.plot(line_x, ly, color='black', lw=0.8, zorder=1)
    ax.scatter(pts[:, 0], pts[:, 1], s=18, facecolors='none',
               edgecolors='#151515', linewidths=1.0, zorder=2)
    ax.set_xlim(0, 8)
    ax.set_ylim(0, 10)
    ax.set_xticks([0, 2, 4, 6, 8])
    ax.set_yticks([0, 2, 4, 6, 8, 10])
    ax.set_xticks([1, 3, 5, 7], minor=True)
    ax.set_yticks([1, 3, 5, 7, 9], minor=True)
    ax.tick_params(which='major', direction='in', length=6, width=1,
                   color='#777777', labelsize=14, pad=8)
    ax.tick_params(which='minor', direction='in', length=2, width=1, color='#777777')
    for sp in ax.spines.values():
        sp.set_color('#555555')
        sp.set_linewidth(1.0)
    ax.text(0.5, 0.94 if i < 2 else 0.934, sub, transform=ax.transAxes,
            ha='center', va='center', fontsize=15, fontweight='heavy')
    ax.set_xlabel(xlab, fontsize=17, fontweight='heavy', labelpad=8)
    if i % 2 == 0:
        ax.set_ylabel('DV [ln (µg/L)]', fontsize=17, fontweight='heavy', labelpad=8)

fig.text(486 / 919, 1 - 22 / 839, 'Intravenous administration',
         ha='center', va='center', fontsize=17, fontweight='heavy')
fig.text(487 / 919, 1 - 451 / 839, 'Oral administration',
         ha='center', va='center', fontsize=17, fontweight='heavy')

fig.savefig('out.png', dpi=100)
